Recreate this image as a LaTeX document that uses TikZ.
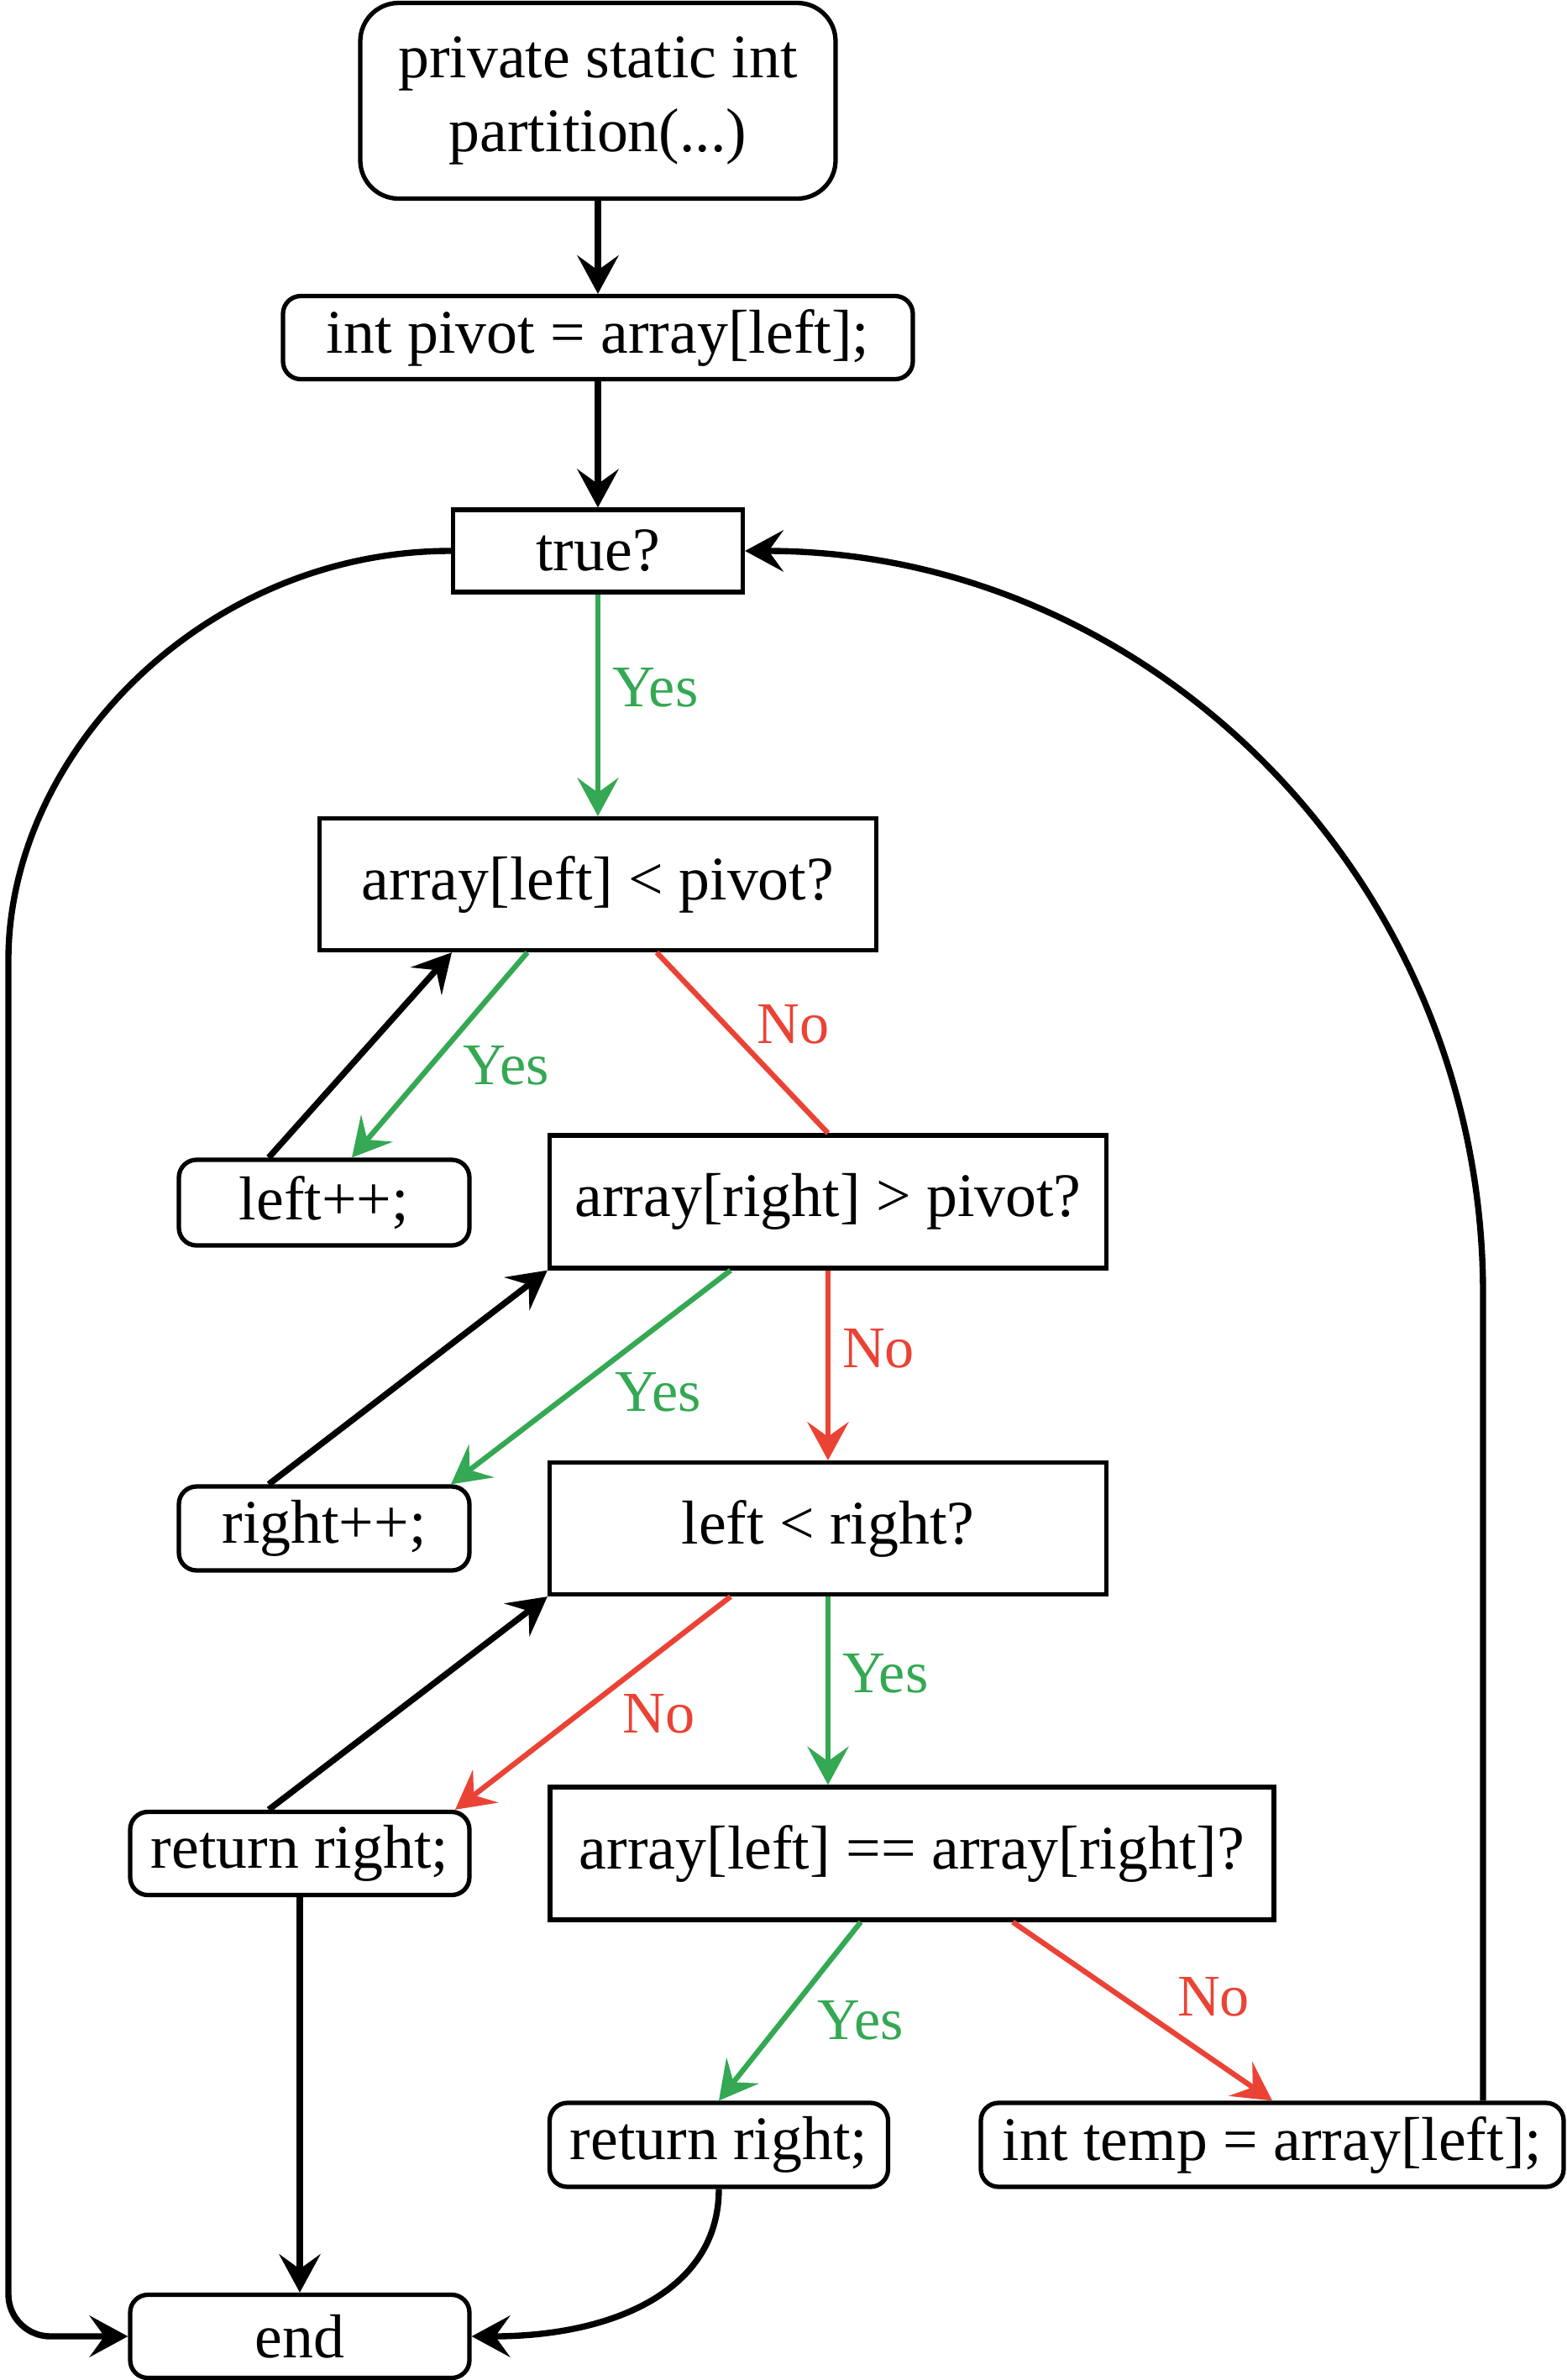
\documentclass[tikz,border=0pt]{standalone}
\usepackage{fontspec}
\setmainfont{Liberation Serif}
\usepackage{xcolor}
\usepackage{tikz}
\usetikzlibrary{arrows.meta,positioning,calc}
\definecolor{yesgreen}{RGB}{52,168,83}
\definecolor{nored}{RGB}{234,67,53}
\tikzset{
  stepbox/.style={draw=black, line width=1.5pt, rounded corners=6pt, inner sep=0pt, font=\fontsize{21}{25}\selectfont},
  testbox/.style={draw=black, line width=1.5pt, inner sep=0pt, font=\fontsize{21}{25}\selectfont},
  flow/.style={color=black, line width=2.1pt, -{Stealth[length=13pt,width=14pt,inset=5pt]}},
  yesflow/.style={flow, color=yesgreen, line width=1.8pt},
  noflow/.style={flow, color=nored, line width=1.8pt},
  yeslbl/.style={text=yesgreen, inner sep=2pt, font=\fontsize{20}{24}\selectfont},
  nolbl/.style={text=nored, inner sep=2pt, font=\fontsize{20}{24}\selectfont}
}

\begin{document}
\begin{tikzpicture}
  \useasboundingbox (0,0) rectangle (18.66,-28.34);

  \node[stepbox, rounded corners=13pt, minimum width=5.66cm, minimum height=2.33cm, align=center] (start) at (7.12,-1.20) {private static int\\partition(...)};
  \node[stepbox, minimum width=7.50cm, minimum height=0.99cm] (pivot) at (7.12,-4.02) {int pivot = array[left];};
  \node[testbox, minimum width=3.45cm, minimum height=0.98cm] (true) at (7.12,-6.56) {true?};
  \node[testbox, minimum width=6.63cm, minimum height=1.57cm] (lpiv) at (7.12,-10.53) {array[left] < pivot?};
  \node[stepbox, minimum width=3.46cm, minimum height=1.02cm] (lpp) at (3.86,-14.32) {left++;};
  \node[testbox, minimum width=6.63cm, minimum height=1.58cm] (rpiv) at (9.86,-14.31) {array[right] > pivot?};
  \node[stepbox, minimum width=3.46cm, minimum height=1.00cm] (rpp) at (3.86,-18.20) {right++;};
  \node[testbox, minimum width=6.63cm, minimum height=1.57cm] (lr) at (9.86,-18.20) {left < right?};
  \node[stepbox, minimum width=4.04cm, minimum height=0.99cm] (ret1) at (3.57,-22.07) {return right;};
  \node[testbox, minimum width=8.62cm, minimum height=1.58cm] (eq) at (10.86,-22.07) {array[left] == array[right]?};
  \node[stepbox, minimum width=4.03cm, minimum height=1.00cm] (ret2) at (8.56,-25.54) {return right;};
  \node[stepbox, minimum width=6.94cm, minimum height=1.00cm] (temp) at (15.15,-25.54) {int temp = array[left];};
  \node[stepbox, minimum width=4.04cm, minimum height=0.99cm] (done) at (3.57,-27.82) {end};

  \coordinate (rbend) at (17.66,-15.40);
  \coordinate (lbend) at (0.10,-11.93);

  \draw[flow] (start) -- (pivot);
  \draw[flow] (pivot) -- (true);
  \draw[yesflow] (true) -- node[yeslbl, pos=0.42, right=2pt] {Yes} (lpiv);
  \draw[yesflow] ([xshift=-0.84cm]lpiv.south) -- node[yeslbl, pos=0.55, right=8pt] {Yes} ([xshift=0.33cm]lpp.north);
  \draw[flow] ([xshift=-0.66cm]lpp.north) -- ([xshift=-1.74cm]lpiv.south);
  \draw[noflow, -] ([xshift=0.70cm]lpiv.south) -- node[nolbl, pos=0.4, right=8pt] {No} (rpiv.north);
  \draw[yesflow] ([xshift=-1.16cm]rpiv.south) -- node[yeslbl, pos=0.57, right=12pt] {Yes} ([xshift=1.51cm]rpp.north);
  \draw[flow] ([xshift=-0.66cm]rpp.north) -- (rpiv.south west);
  \draw[noflow] (rpiv) -- node[nolbl, pos=0.41, right=2pt] {No} (lr);
  \draw[noflow] ([xshift=-1.16cm]lr.south) -- node[nolbl, pos=0.55, right=12pt] {No} ([xshift=1.85cm]ret1.north);
  \draw[flow] ([xshift=-0.37cm]ret1.north) -- (lr.south west);
  \draw[yesflow] (lr) -- node[yeslbl, pos=0.41, right=2pt] {Yes} (lr.south |- eq.north);
  \draw[yesflow] ([xshift=-0.61cm]eq.south) -- node[yeslbl, pos=0.55, right=9pt] {Yes} (ret2.north);
  \draw[noflow] ([xshift=1.20cm]eq.south) -- node[nolbl, pos=0.42, right=16pt] {No} (temp.north);
  \draw[flow] (ret1) -- (done);
  \draw[flow] (ret2.south) .. controls +(0,-1.2) and +(1.7,0) .. (done.east);
  \draw[flow] (rbend |- temp.north) -- (rbend) .. controls +(0,4.88) and +(4.87,0) .. (true.east);
  \draw[flow, rounded corners=0.5cm] (true.west) .. controls +(-2.93,0) and +(0,2.96) .. (lbend) |- (done.west);
\end{tikzpicture}
\end{document}
